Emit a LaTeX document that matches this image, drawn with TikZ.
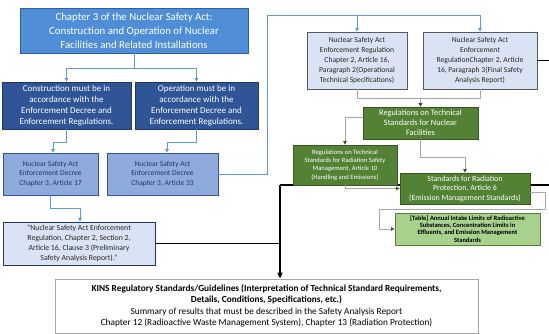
\documentclass[tikz,border=0pt]{standalone}
\usepackage{fontspec}
\setmainfont{Carlito}
\usetikzlibrary{arrows.meta}

\definecolor{actblue}{HTML}{4F8ED6}
\definecolor{actline}{HTML}{2F5F9F}
\definecolor{dutyblue}{HTML}{2F5597}
\definecolor{dutyline}{HTML}{1F3864}
\definecolor{decblue}{HTML}{8FAADC}
\definecolor{paleblue}{HTML}{DAE3F3}
\definecolor{boxgray}{HTML}{595959}
\definecolor{techgreen}{HTML}{548235}
\definecolor{techline}{HTML}{385723}
\definecolor{tablegreen}{HTML}{A9D18E}
\definecolor{lineblue}{HTML}{5B9BD5}
\definecolor{linegray}{HTML}{A6A6A6}

\tikzset{
  box/.style={draw, align=center, inner sep=2pt, line width=0.8pt},
  actbox/.style={box, fill=actblue, draw=actline, text=white, font=\fontsize{10.8}{14}\selectfont},
  dutybox/.style={box, fill=dutyblue, draw=dutyline, text=white, font=\fontsize{9}{11.2}\selectfont},
  decbox/.style={box, fill=decblue, draw=dutyblue, text=dutyline, font=\fontsize{7.5}{9.5}\selectfont},
  regbox/.style={box, fill=paleblue, draw=boxgray, text=black!85},
  techbox/.style={box, fill=techgreen, draw=techline, text=white},
  tablebox/.style={box, fill=tablegreen, draw=techgreen, text=black, font=\fontsize{6.5}{7.3}\selectfont\bfseries},
  link/.style={draw=lineblue, line width=0.7pt, -{Triangle[length=3.5pt,width=3.5pt]}},
  flow/.style={draw=linegray, line width=0.7pt, -{Triangle[length=3.5pt,width=3.5pt,color=techline]}},
  trunk/.style={draw=black, line width=1.8pt}
}

\begin{document}
\begin{tikzpicture}[x=1pt,y=-1pt]
\useasboundingbox (0,0) rectangle (549,334);

% thick line passing behind the green boxes
\coordinate (rimA) at (549,62);
\coordinate (rimB) at (549,185);
\coordinate (joint) at (280,185);
\draw[trunk] (rimB) -- (joint);

% left column
\node[actbox, minimum width=228pt, minimum height=45pt] (ch3) at (134,30.5)
  {Chapter 3 of the Nuclear Safety Act:\\Construction and Operation of Nuclear\\Facilities and Related Installations};
\node[dutybox, minimum width=129pt, minimum height=47pt] (constr) at (66.5,105.5)
  {Construction must be in\\accordance with the\\Enforcement Decree and\\Enforcement Regulations.};
\node[dutybox, minimum width=123pt, minimum height=47pt] (oper) at (196.5,105.5)
  {Operation must be in\\accordance with the\\Enforcement Decree and\\Enforcement Regulations.};
\node[decbox, minimum width=95pt, minimum height=42pt] (dec17) at (50.5,174)
  {Nuclear Safety Act\\Enforcement Decree\\Chapter 3, Article 17};
\node[decbox, minimum width=111pt, minimum height=42pt] (dec33) at (162.5,174)
  {Nuclear Safety Act\\Enforcement Decree\\Chapter 3, Article 33};
\node[regbox, draw=dutyline, font=\fontsize{7.8}{10}\selectfont, minimum width=152pt, minimum height=43pt] (prelim) at (79,243.5)
  {``Nuclear Safety Act Enforcement\\Regulation, Chapter 2, Section 2,\\Article 16, Clause 3 (Preliminary\\Safety Analysis Report).''};

% right column
\node[regbox, font=\fontsize{7.6}{9.8}\selectfont, minimum width=100pt, minimum height=57pt] (optech) at (357,60.5)
  {Nuclear Safety Act\\Enforcement Regulation\\Chapter 2, Article 16,\\Paragraph 2(Operational\\Technical Specifications)};
\node[regbox, font=\fontsize{7.6}{9.8}\selectfont, minimum width=114pt, minimum height=57pt] (fsar) at (480,60.5)
  {Nuclear Safety Act\\Enforcement\\RegulationChapter 2, Article\\16, Paragraph 3(Final Safety\\Analysis Report)};
\node[techbox, font=\fontsize{8.3}{10}\selectfont, minimum width=115pt, minimum height=32pt] (nucfac) at (420.5,123)
  {Regulations on Technical\\Standards for Nuclear\\Facilities};
\node[techbox, font=\fontsize{6.6}{8.3}\selectfont, minimum width=104pt, minimum height=40pt] (radsafe) at (345,165)
  {Regulations on Technical\\Standards for Radiation Safety\\Management, Article 10\\(Handling and Emissions)};
\node[techbox, font=\fontsize{7.9}{9.5}\selectfont, minimum width=130pt, minimum height=31pt] (radprot) at (465,188.5)
  {Standards for Radiation\\Protection, Article 6\\(Emission Management Standards)};
\node[tablebox, minimum width=145pt, minimum height=32pt] (limits) at (467.5,229)
  {[Table] Annual Intake Limits of Radioactive\\Substances, Concentration Limits in\\Effluents, and Emission Management\\Standards};

% bottom
\node[box, draw=linegray, fill=white, font=\fontsize{9.3}{11.5}\selectfont, minimum width=423pt, minimum height=54pt] (kins) at (266.5,306)
  {\textbf{KINS Regulatory Standards/Guidelines (Interpretation of Technical Standard Requirements,}\\
   \textbf{Details, Conditions, Specifications, etc.)}\\
   Summary of results that must be described in the Safety Analysis Report\\
   Chapter 12 (Radioactive Waste Management System), Chapter 13 (Radiation Protection)};

% blue connectors
\coordinate (bend) at (267,15);
\draw[link] (ch3.south) -- ++(0,15) -| (constr.north);
\draw[link] (ch3.south) -- ++(0,15) -| (oper.north);
\draw[link] (constr.south) -- ++(0,13) -| ([xshift=2.5pt]dec17.north);
\draw[link] (oper.south) -- ++(0,13) -| ([xshift=4.5pt]dec33.north);
\draw[link] (dec17.south) -- ++(0,13) -| ([xshift=1pt]prelim.north);
\draw[link] (dec33.east) -| (bend) -| (optech.north);
\draw[link] (bend) -| (fsar.north);

% gray connectors
\draw[flow] (optech.south) -- ++(0,9) -| (nucfac.north);
\draw[flow] (fsar.south) -- ++(0,9) -| (nucfac.north);
\draw[flow] ([yshift=6pt]nucfac.west) -| (radsafe.north);
\draw[flow] (nucfac.south) -- ++(0,18) -| (radprot.north);
\draw[flow] (radsafe.south) |- (radprot.west);
\draw[flow] ([yshift=-4pt]radprot.east) -- ++(15,0) -- ++(0,17) -| ([xshift=-15pt]limits.west) -- (limits.west);

% thick black connectors
\draw[trunk] (fsar.east) -- (fsar.east -| rimA);
\draw[trunk] (prelim.east) -- (prelim.east -| joint);
\draw[trunk, -{Triangle[length=6pt,width=5pt]}] (joint) -- (joint |- kins.north);
\end{tikzpicture}
\end{document}
